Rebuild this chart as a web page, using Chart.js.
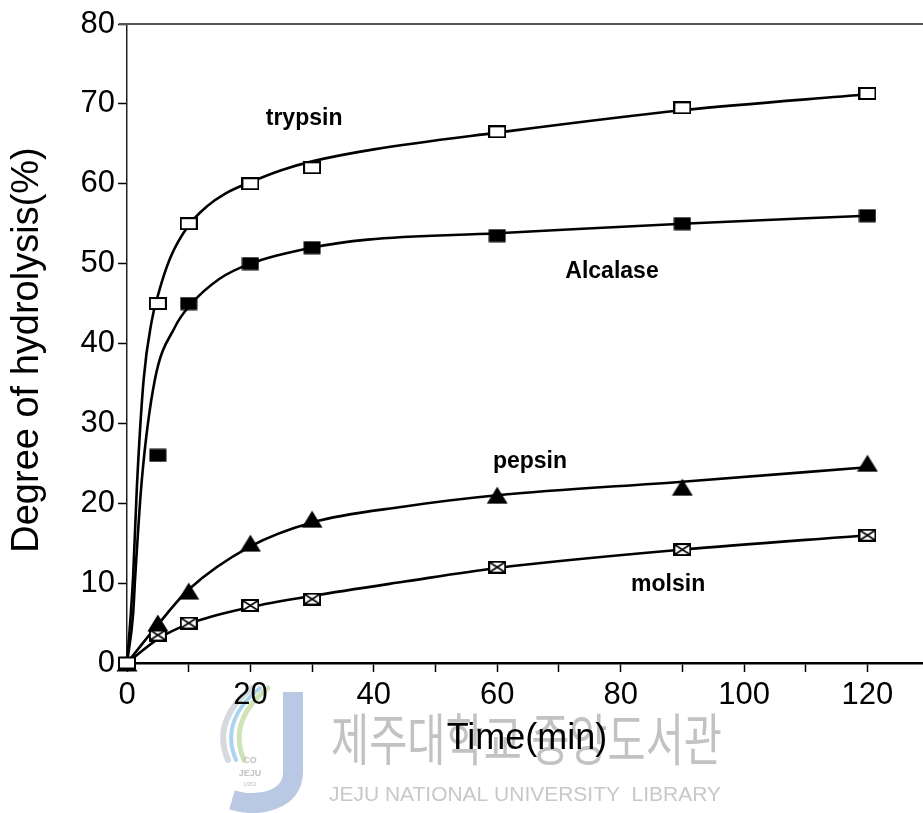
<!DOCTYPE html>
<html>
<head>
<meta charset="utf-8">
<script src="https://cdn.jsdelivr.net/npm/chart.js@4.4.1/dist/chart.umd.min.js"></script>
<style>
    html, body { margin: 0; padding: 0; background: #fff; }
    #wrap { width: 923px; height: 813px; position: relative; }
</style>
</head>
<body>
<div id="wrap"><canvas id="dhChart" width="923" height="813"></canvas></div>
<script>
// measured points (min, % hydrolysis)
const times = [0, 5, 10, 20, 30, 60, 90, 120];
const trypsin = [0, 45, 55, 60, 62, 66.5, 69.5, 71.3];
const alcalase = [0, 26, 45, 50, 52, 53.5, 55, 56];
const pepsin = [0, 5, 9, 15, 18, 21, 22, 25];
const molsin = [0, 3.5, 5, 7.2, 8, 12, 14.2, 16];

// fitted curves
const trypsinFitT = [0, 0.6, 1, 1.6, 2.7, 4, 5, 7, 10, 13, 16, 20, 25, 30, 40, 60, 90, 120];
const trypsinFitY = [0, 6, 11, 22, 35.5, 42.8, 46, 50.7, 54.8, 57.2, 58.8, 60.2, 61.7, 62.8, 64.3, 66.4, 69.2, 71.2];
const alcalaseFitT = [0, 1, 1.3, 2.4, 4.5, 7.8, 10, 15, 20, 30, 39, 60, 90, 120];
const alcalaseFitY = [0, 6.2, 10.4, 22.9, 35.4, 42.1, 44.6, 48.1, 50, 52, 53, 53.8, 55, 56];
const pepsinFitT = [0, 5, 10, 20, 30, 45, 60, 90, 120];
const pepsinFitY = [0, 4.8, 9.2, 14.6, 17.6, 19.6, 21, 22.7, 24.5];
const molsinFitT = [0, 5, 10, 20, 30, 45, 60, 90, 120];
const molsinFitY = [0, 3.0, 4.9, 7.0, 8.4, 10.2, 11.9, 14.2, 16.0];

const xTicks = [0, 20, 40, 60, 80, 100, 120];

// in-plot labels (anchor in data units)
const curveLabels = [
    { text: 'trypsin', t: 28.7, v: 68.2 },
    { text: 'Alcalase', t: 78.6, v: 49.0 },
    { text: 'pepsin', t: 65.3, v: 25.2 },
    { text: 'molsin', t: 87.7, v: 9.8 }
];

const FONT = '"Liberation Sans", Arial, Helvetica, sans-serif';

function toXY(xs, ys) {
    return xs.map((x, i) => ({ x: x, y: ys[i] }));
}

function makeMarker(kind) {
    const c = document.createElement('canvas');
    const w = kind === 'tri' ? 22 : 18;
    const h = kind === 'tri' ? 18 : (kind === 'filled' ? 14 : 13);
    c.width = w; c.height = h;
    const g = c.getContext('2d');
    g.lineWidth = 2;
    g.strokeStyle = '#000';
    g.fillStyle = '#000';
    if (kind === 'filled') {
        g.fillRect(0.5, 0.5, w - 1, h - 1);
    } else if (kind === 'tri') {
        g.beginPath();
        g.moveTo(w / 2, 0.5);
        g.lineTo(w - 0.5, h - 0.5);
        g.lineTo(0.5, h - 0.5);
        g.closePath();
        g.fill();
    } else {
        g.fillStyle = '#fff';
        g.fillRect(1, 1, w - 2, h - 2);
        g.strokeRect(1, 1, w - 2, h - 2);
        if (kind === 'cross') {
            g.lineWidth = 1.5;
            g.beginPath();
            g.moveTo(2, 2); g.lineTo(w - 2, h - 2);
            g.moveTo(w - 2, 2); g.lineTo(2, h - 2);
            g.stroke();
        }
    }
    return c;
}

function curve(xs, ys) {
    return {
        data: toXY(xs, ys),
        showLine: true,
        borderColor: '#000',
        borderWidth: 2.6,
        pointRadius: 0,
        cubicInterpolationMode: 'monotone',
        order: 2,
        clip: false
    };
}

function markers(ys, style) {
    return {
        data: toXY(times, ys),
        showLine: false,
        pointStyle: style,
        pointRadius: 9,
        order: 0,
        clip: false
    };
}

// fit text into a box, stretching as needed (scanned watermark)
function fitText(ctx, text, font, x0, x1, yTop, yBot, color) {
    ctx.save();
    ctx.font = font;
    const m = ctx.measureText(text);
    const asc = m.actualBoundingBoxAscent, desc = m.actualBoundingBoxDescent;
    const sx = (x1 - x0) / m.width;
    const sy = (yBot - yTop) / (asc + desc);
    ctx.translate(x0, yTop + asc * sy);
    ctx.scale(sx, sy);
    ctx.fillStyle = color;
    ctx.textBaseline = 'alphabetic';
    ctx.fillText(text, 0, 0);
    ctx.restore();
}

function drawLogo(ctx) {
    ctx.save();
    ctx.lineCap = 'round';
    const swoosh = (color, w, dx) => {
        ctx.strokeStyle = color;
        ctx.lineWidth = w;
        ctx.beginPath();
        ctx.moveTo(262 + dx, 688);
        ctx.bezierCurveTo(240 + dx, 705, 225 + dx, 730, 238 + dx, 760);
        ctx.stroke();
    };
    swoosh('#cfe3b8', 5, 6);
    swoosh('#a9d3ee', 4, -2);
    swoosh('#d6d9e0', 6, -10);
    // J
    ctx.strokeStyle = '#b9c9e3';
    ctx.lineWidth = 20;
    ctx.lineCap = 'butt';
    ctx.beginPath();
    ctx.moveTo(293, 692);
    ctx.lineTo(293, 772);
    ctx.bezierCurveTo(293, 800, 260, 808, 232, 800);
    ctx.stroke();
    ctx.fillStyle = '#c3c3c3';
    ctx.font = 'bold 9px ' + FONT;
    ctx.textAlign = 'center';
    ctx.fillText('CO', 250, 763);
    ctx.fillText('JEJU', 250, 776);
    ctx.font = '6px ' + FONT;
    ctx.fillText('1952', 250, 786);
    ctx.restore();
}

const paperPlugin = {
    id: 'paper',
    beforeDraw(chart) {
        const ctx = chart.ctx;
        ctx.save();
        ctx.fillStyle = '#fff';
        ctx.fillRect(0, 0, chart.width, chart.height);
        ctx.restore();
        drawLogo(ctx);
        fitText(ctx, '제주대학교 중앙도서관', '48px "Noto Sans CJK KR"', 331, 722, 713, 766, '#c2c2c2');
        fitText(ctx, 'JEJU NATIONAL UNIVERSITY  LIBRARY', '20px ' + FONT, 329, 721, 787, 801, '#c8c8c8');
    },
    afterDraw(chart) {
        const ctx = chart.ctx;
        const area = chart.chartArea;
        const xs = chart.scales.x, ys = chart.scales.y;
        ctx.save();
        // top frame line
        ctx.strokeStyle = '#555';
        ctx.lineWidth = 2;
        ctx.beginPath();
        ctx.moveTo(area.left - 8, area.top);
        ctx.lineTo(chart.width, area.top);
        ctx.stroke();

        ctx.fillStyle = '#000';
        ctx.textAlign = 'center';
        ctx.textBaseline = 'middle';
        ctx.font = '36px ' + FONT;
        ctx.fillText('Time(min)', 527, 739);

        ctx.save();
        ctx.translate(28, 350);
        ctx.rotate(-Math.PI / 2);
        ctx.font = '38px ' + FONT;
        ctx.fillText('Degree of hydrolysis(%)', 0, 0);
        ctx.restore();

        ctx.font = 'bold 23px ' + FONT;
        curveLabels.forEach(l => {
            ctx.fillText(l.text, xs.getPixelForValue(l.t), ys.getPixelForValue(l.v));
        });
        ctx.restore();
    }
};

const ctx = document.getElementById('dhChart');
new Chart(ctx, {
    type: 'scatter',
    data: {
        datasets: [
            markers(trypsin, makeMarker('open')),
            markers(alcalase, makeMarker('filled')),
            markers(pepsin, makeMarker('tri')),
            markers(molsin, makeMarker('cross')),
            curve(trypsinFitT, trypsinFitY),
            curve(alcalaseFitT, alcalaseFitY),
            curve(pepsinFitT, pepsinFitY),
            curve(molsinFitT, molsinFitY)
        ]
    },
    options: {
        responsive: false,
        animation: false,
        devicePixelRatio: 1,
        layout: { autoPadding: false, padding: { top: 24, right: 0, bottom: 0, left: 0 } },
        plugins: {
            legend: { display: false },
            tooltip: { enabled: false }
        },
        scales: {
            x: {
                type: 'linear',
                min: 0,
                max: 129,
                afterFit: s => {
                    s.height = 150;
                    s.paddingLeft = 0;
                    s.paddingRight = 0;
                },
                border: { color: '#000', width: 2.5 },
                grid: { drawOnChartArea: false, drawTicks: true, tickLength: 9, tickWidth: 1.5, tickColor: '#000' },
                ticks: {
                    stepSize: 10,
                    includeBounds: false,
                    autoSkip: false,
                    maxRotation: 0,
                    padding: 5,
                    color: '#000',
                    font: { family: FONT, size: 31 },
                    callback: v => xTicks.includes(v) ? String(v) : ''
                }
            },
            y: {
                min: 0,
                max: 80,
                afterFit: s => { s.width = 127; },
                border: { color: '#222', width: 1.5 },
                grid: { drawOnChartArea: false, drawTicks: true, tickLength: 9, tickWidth: 1.5, tickColor: '#000' },
                ticks: {
                    stepSize: 10,
                    padding: 3,
                    color: '#000',
                    font: { family: FONT, size: 31 }
                }
            }
        }
    },
    plugins: [paperPlugin]
});
</script>
</body>
</html>
